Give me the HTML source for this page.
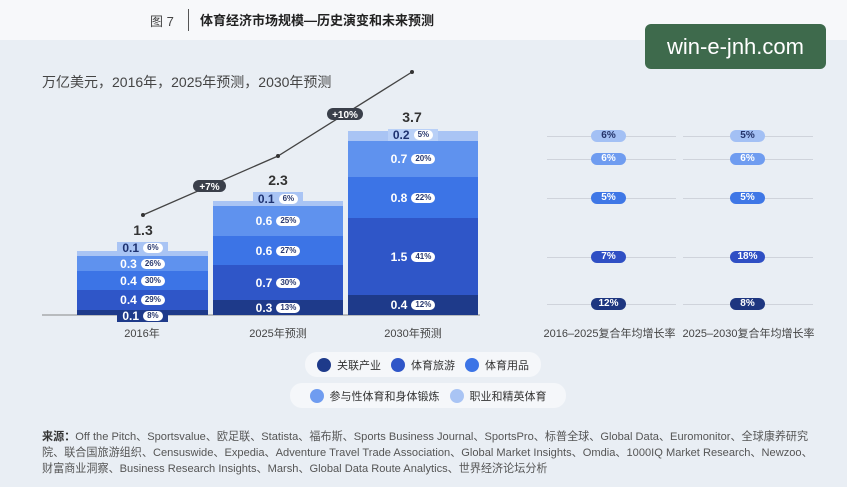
<!DOCTYPE html><html><head><meta charset="utf-8"><style>
body{margin:0;width:847px;height:487px;background:#e9eef4;font-family:"Liberation Sans","Noto Sans CJK SC",sans-serif;position:relative;overflow:hidden}
.a{position:absolute}
.seg{position:absolute;display:flex;align-items:center;justify-content:center;color:#fff;font-weight:bold;font-size:12px}
.pc{display:inline-block;background:#fff;color:#2a3a70;border-radius:6px;font-size:8px;padding:0 4px;margin-left:4px;line-height:10px;font-weight:bold}
.tab{position:absolute;display:flex;align-items:center;justify-content:center;font-weight:bold;font-size:12px;color:#1e3270}
.tot{position:absolute;font-weight:bold;font-size:14px;color:#333;width:60px;text-align:center}
.hl{position:absolute;height:1px;background:#cfd3db}
.pill{position:absolute;width:35px;height:12px;border-radius:6px;font-size:10px;font-weight:bold;text-align:center;line-height:12px}
.xl{position:absolute;font-size:11px;color:#444;text-align:center}
.dot{display:inline-block;width:14px;height:14px;border-radius:7px;vertical-align:middle;margin-right:6px}
.lg{font-size:11px;color:#333;margin-right:10px}
</style></head><body>
<div class="a" style="left:0;top:0;width:847px;height:40px;background:#f7f8fa"></div>
<div class="a" style="left:150px;top:11px;font-size:13px;color:#444">图 7</div>
<div class="a" style="left:188px;top:9px;width:1px;height:22px;background:#555"></div>
<div class="a" style="left:200px;top:10px;font-size:13px;font-weight:bold;color:#222">体育经济市场规模—历史演变和未来预测</div>
<div class="a" style="left:645px;top:24px;width:181px;height:45px;background:#3e6a4c;border-radius:6px;color:#fff;font-size:22px;line-height:45px;text-align:center">win-e-jnh.com</div>
<div class="a" style="left:42px;top:72px;font-size:14px;color:#444">万亿美元，2016年，2025年预测，2030年预测</div>

<svg class="a" style="left:0;top:0" width="847" height="487">
<polyline points="143,215 278,156 412,72" fill="none" stroke="#444" stroke-width="1.3"/>
<circle cx="143" cy="215" r="2" fill="#333"/><circle cx="278" cy="156" r="2" fill="#333"/><circle cx="412" cy="72" r="2" fill="#333"/>
<rect x="193" y="180" width="33" height="12" rx="6" fill="#3a3f4a"/><text x="209.5" y="190" font-size="10" fill="#fff" text-anchor="middle" font-weight="bold" font-family="Liberation Sans">+7%</text>
<rect x="327" y="108" width="36" height="12" rx="6" fill="#3a3f4a"/><text x="345" y="118" font-size="10" fill="#fff" text-anchor="middle" font-weight="bold" font-family="Liberation Sans">+10%</text>
<line x1="42" y1="315" x2="480" y2="315" stroke="#888" stroke-width="1"/>
</svg>

<div class="tot" style="left:113px;top:222px">1.3</div>
<div class="seg" style="left:77px;top:251px;width:131px;height:5px;background:#a9c4f4"></div>
<div class="seg" style="left:77px;top:256px;width:131px;height:15px;background:#5f92ee">0.3<span class="pc">26%</span></div>
<div class="seg" style="left:77px;top:271px;width:131px;height:19px;background:#3c74e6">0.4<span class="pc">30%</span></div>
<div class="seg" style="left:77px;top:290px;width:131px;height:20px;background:#2f56c8">0.4<span class="pc">29%</span></div>
<div class="seg" style="left:77px;top:310px;width:131px;height:5px;background:#1e3a8a"></div>
<div class="tab" style="left:117px;top:242px;width:51px;height:12px;background:#a9c4f4">0.1<span class="pc">6%</span></div>
<div class="seg" style="left:117px;top:310px;width:51px;height:12px;background:#1e3a8a">0.1<span class="pc">8%</span></div>

<div class="tot" style="left:248px;top:172px">2.3</div>
<div class="seg" style="left:213px;top:201px;width:130px;height:5px;background:#a9c4f4"></div>
<div class="seg" style="left:213px;top:206px;width:130px;height:30px;background:#5f92ee">0.6<span class="pc">25%</span></div>
<div class="seg" style="left:213px;top:236px;width:130px;height:29px;background:#3c74e6">0.6<span class="pc">27%</span></div>
<div class="seg" style="left:213px;top:265px;width:130px;height:35px;background:#2f56c8">0.7<span class="pc">30%</span></div>
<div class="seg" style="left:213px;top:300px;width:130px;height:15px;background:#1e3a8a">0.3<span class="pc">13%</span></div>
<div class="tab" style="left:253px;top:192px;width:50px;height:13px;background:#a9c4f4">0.1<span class="pc">6%</span></div>

<div class="tot" style="left:382px;top:109px">3.7</div>
<div class="seg" style="left:348px;top:131px;width:130px;height:10px;background:#a9c4f4"></div>
<div class="seg" style="left:348px;top:141px;width:130px;height:36px;background:#5f92ee">0.7<span class="pc">20%</span></div>
<div class="seg" style="left:348px;top:177px;width:130px;height:41px;background:#3c74e6">0.8<span class="pc">22%</span></div>
<div class="seg" style="left:348px;top:218px;width:130px;height:77px;background:#2f56c8">1.5<span class="pc">41%</span></div>
<div class="seg" style="left:348px;top:295px;width:130px;height:20px;background:#1e3a8a">0.4<span class="pc">12%</span></div>
<div class="tab" style="left:388px;top:129px;width:50px;height:12px;background:#b9d0f7">0.2<span class="pc">5%</span></div>

<div class="xl" style="left:92px;top:325px;width:100px">2016年</div>
<div class="xl" style="left:228px;top:325px;width:100px">2025年预测</div>
<div class="xl" style="left:363px;top:325px;width:100px">2030年预测</div>

<div class="hl" style="left:547px;top:136px;width:129px"></div><div class="hl" style="left:683px;top:136px;width:130px"></div>
<div class="hl" style="left:547px;top:159px;width:129px"></div><div class="hl" style="left:683px;top:159px;width:130px"></div>
<div class="hl" style="left:547px;top:198px;width:129px"></div><div class="hl" style="left:683px;top:198px;width:130px"></div>
<div class="hl" style="left:547px;top:257px;width:129px"></div><div class="hl" style="left:683px;top:257px;width:130px"></div>
<div class="hl" style="left:547px;top:304px;width:129px"></div><div class="hl" style="left:683px;top:304px;width:130px"></div>
<div class="pill" style="left:591px;top:130px;background:#a3c0f4;color:#24336a">6%</div><div class="pill" style="left:730px;top:130px;background:#a3c0f4;color:#24336a">5%</div>
<div class="pill" style="left:591px;top:153px;background:#6f9cf0;color:#fff">6%</div><div class="pill" style="left:730px;top:153px;background:#6f9cf0;color:#fff">6%</div>
<div class="pill" style="left:591px;top:192px;background:#3f77e6;color:#fff">5%</div><div class="pill" style="left:730px;top:192px;background:#3f77e6;color:#fff">5%</div>
<div class="pill" style="left:591px;top:251px;background:#2f4fc4;color:#fff">7%</div><div class="pill" style="left:730px;top:251px;background:#2f4fc4;color:#fff">18%</div>
<div class="pill" style="left:591px;top:298px;background:#1e3680;color:#fff">12%</div><div class="pill" style="left:730px;top:298px;background:#1e3680;color:#fff">8%</div>
<div class="xl" style="left:537px;top:325px;width:145px">2016–2025复合年均增长率</div>
<div class="xl" style="left:676px;top:325px;width:145px">2025–2030复合年均增长率</div>

<div class="a" style="left:305px;top:352px;width:236px;height:25px;background:#f5f7fa;border-radius:12px;line-height:25px;text-align:center"><span class="dot" style="background:#1e3a8a"></span><span class="lg">关联产业</span><span class="dot" style="background:#2f56c8"></span><span class="lg">体育旅游</span><span class="dot" style="background:#3c74e6"></span><span class="lg" style="margin-right:0">体育用品</span></div>
<div class="a" style="left:290px;top:383px;width:276px;height:25px;background:#f5f7fa;border-radius:12px;line-height:25px;text-align:center"><span class="dot" style="background:#6f9cf0"></span><span class="lg">参与性体育和身体锻炼</span><span class="dot" style="background:#a9c4f4"></span><span class="lg" style="margin-right:0">职业和精英体育</span></div>

<div class="a" style="left:42px;top:429px;font-size:11.1px;line-height:16px;color:#555;white-space:nowrap"><b style="color:#333">来源：</b>Off the Pitch、Sportsvalue、欧足联、Statista、福布斯、Sports Business Journal、SportsPro、标普全球、Global Data、Euromonitor、全球康养研究<br>院、联合国旅游组织、Censuswide、Expedia、Adventure Travel Trade Association、Global Market Insights、Omdia、1000IQ Market Research、Newzoo、<br>财富商业洞察、Business Research Insights、Marsh、Global Data Route Analytics、世界经济论坛分析</div>
</body></html>
